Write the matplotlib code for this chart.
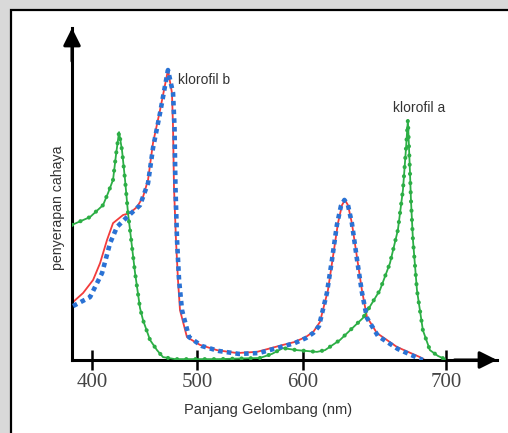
import matplotlib
matplotlib.use("Agg")
import matplotlib.pyplot as plt
from matplotlib.patches import Rectangle

# ---- data (wavelength in nm, relative absorption) ----
chl_a_nm = [381, 398.1, 410.4, 415.2, 419.9, 422.7, 425.6, 428.4, 431.3, 434.1, 437.9,
            440.8, 445.5, 448.3, 455, 461.6, 467.3, 478.7, 520, 559.2, 570.6, 581,
            594.3, 613.3, 620.9, 635.1, 656.9, 673, 682.5, 690, 694.8, 697.6, 699.5,
            701.4, 702.4, 704.3, 708.1, 713.7, 720.4, 728, 734.6]
chl_a_abs = [0.466, 0.493, 0.534, 0.576, 0.621, 0.707, 0.786, 0.724, 0.621, 0.507, 0.390,
             0.300, 0.179, 0.138, 0.069, 0.034, 0.010, 0.003, 0.003, 0.007, 0.021, 0.041,
             0.034, 0.028, 0.034, 0.069, 0.145, 0.241, 0.334, 0.448, 0.586, 0.724, 0.828,
             0.655, 0.552, 0.414, 0.241, 0.103, 0.034, 0.014, 0.003]

chl_b_red_nm = [382, 391.5, 401, 407.6, 414.2, 419.9, 429.4, 436, 442.7, 448.3, 453.1,
                457.8, 464.5, 472, 475.8, 476.8, 477.7, 479.6, 481.5, 483.4, 490, 502.4,
                518.5, 537.4, 556.4, 581, 592, 603, 610, 616.1, 623.7, 628.4, 633.2, 637,
                639.8, 642.7, 646.4, 651.2, 655.9, 660.7, 670.1, 689.1, 710.9, 715.6]
chl_b_red_abs = [0.2, 0.231, 0.276, 0.334, 0.414, 0.472, 0.5, 0.507, 0.528, 0.562, 0.621,
                 0.748, 0.862, 1.0, 0.921, 0.803, 0.597, 0.414, 0.276, 0.172, 0.079, 0.052,
                 0.034, 0.024, 0.028, 0.052, 0.062, 0.08, 0.098, 0.131, 0.241, 0.355,
                 0.472, 0.534, 0.552, 0.534, 0.472, 0.355, 0.241, 0.148, 0.093, 0.045,
                 0.010, 0.0]

chl_b_blue_nm = [382, 398.1, 409.5, 417.1, 423.7, 433.2, 445.5, 453.1, 457.8, 464.5, 472,
                 476.8, 478.2, 479.1, 480.6, 482.5, 485.3, 492, 504.3, 520.4, 539.3,
                 558.3, 582, 592, 603, 610, 615.2, 622.7, 627.5, 632.2, 636, 639.3, 642.7,
                 646.4, 651.2, 655.9, 660.7, 671.1, 690, 709, 713.7]
chl_b_blue_abs = [0.186, 0.217, 0.3, 0.403, 0.459, 0.493, 0.534, 0.610, 0.731, 0.852, 1.0,
                  0.921, 0.803, 0.597, 0.414, 0.276, 0.172, 0.079, 0.048, 0.031, 0.021,
                  0.024, 0.048, 0.058, 0.076, 0.094, 0.117, 0.231, 0.345, 0.466, 0.531,
                  0.552, 0.534, 0.472, 0.348, 0.234, 0.145, 0.083, 0.038, 0.007, 0.0]

tick_pos = [400, 500, 600, 735.5]
tick_labels = ["400", "500", "600", "700"]

label_b = "klorofil b"
label_a = "klorofil a"
xlabel = "Panjang Gelombang (nm)"
ylabel = "penyerapan cahaya"

# ---- figure ----
W, H = 508, 433
fig = plt.figure(figsize=(W / 100, H / 100), dpi=100)
fig.patch.set_facecolor("#d9d9d9")
panel = Rectangle((11 / W, -0.2), 1.2, (433 - 9.5) / H + 0.2,
                  transform=fig.transFigure, facecolor="white",
                  edgecolor="black", lw=1.6, zorder=-5)
fig.add_artist(panel)

ax = fig.add_axes([72 / W, (H - 360) / H, (497 - 72) / W, (360 - 28) / H])
ax.set_zorder(2)
ax.set_facecolor("none")
ax.set_xlim(381, 784)
ax.set_ylim(0, 1.145)

green = "#2cae45"
ax.plot(chl_a_nm, chl_a_abs, color=green, lw=1.3, zorder=3)
ax.plot(chl_a_nm, chl_a_abs, color=green, lw=3.0, zorder=3,
        linestyle=(0, (0.01, 2.2)), dash_capstyle="round")

ax.plot(chl_b_red_nm, chl_b_red_abs, color="#f23c3c", lw=1.3, zorder=2)
ax.plot(chl_b_blue_nm, chl_b_blue_abs, color="#2a72d4", lw=3.3, zorder=4,
        linestyle=(0, (1.0, 0.9)))

for s in ["top", "right"]:
    ax.spines[s].set_visible(False)
for s in ["left", "bottom"]:
    ax.spines[s].set_linewidth(2.2)
    ax.spines[s].set_color("black")

# arrow heads
ax.annotate("", xy=(0, 1.0), xytext=(0, 0.9), xycoords="axes fraction",
            arrowprops=dict(arrowstyle="-|>", lw=2.2, color="black",
                            mutation_scale=26, shrinkA=0, shrinkB=0))
ax.annotate("", xy=(1.0, 0), xytext=(0.9, 0), xycoords="axes fraction",
            arrowprops=dict(arrowstyle="-|>", lw=2.2, color="black",
                            mutation_scale=26, shrinkA=0, shrinkB=0))

ax.set_xticks(tick_pos)
ax.set_xticklabels(tick_labels, fontfamily="Liberation Serif", fontsize=15,
                   color="#444444")
ax.tick_params(axis="x", direction="inout", length=15, width=1.8, pad=2)
ax.set_yticks([])

ax.set_xlabel(xlabel, fontfamily="Liberation Sans", fontsize=10.5, color="#333333")
ax.xaxis.set_label_coords((268 - 72) / 425, -(403 - 360) / 332)
ax.set_ylabel(ylabel, fontfamily="Liberation Sans", fontsize=10.2, color="#333333")
ax.yaxis.set_label_coords(-(72 - 65) / 425, (360 - 208) / 332)

ax.text(481.5, 0.966, label_b, fontfamily="Liberation Sans", fontsize=10,
        color="#333333", ha="left", va="center")
ax.text(710.4, 0.869, label_a, fontfamily="Liberation Sans", fontsize=10,
        color="#333333", ha="center", va="center")

fig.savefig("out.png", dpi=100)
